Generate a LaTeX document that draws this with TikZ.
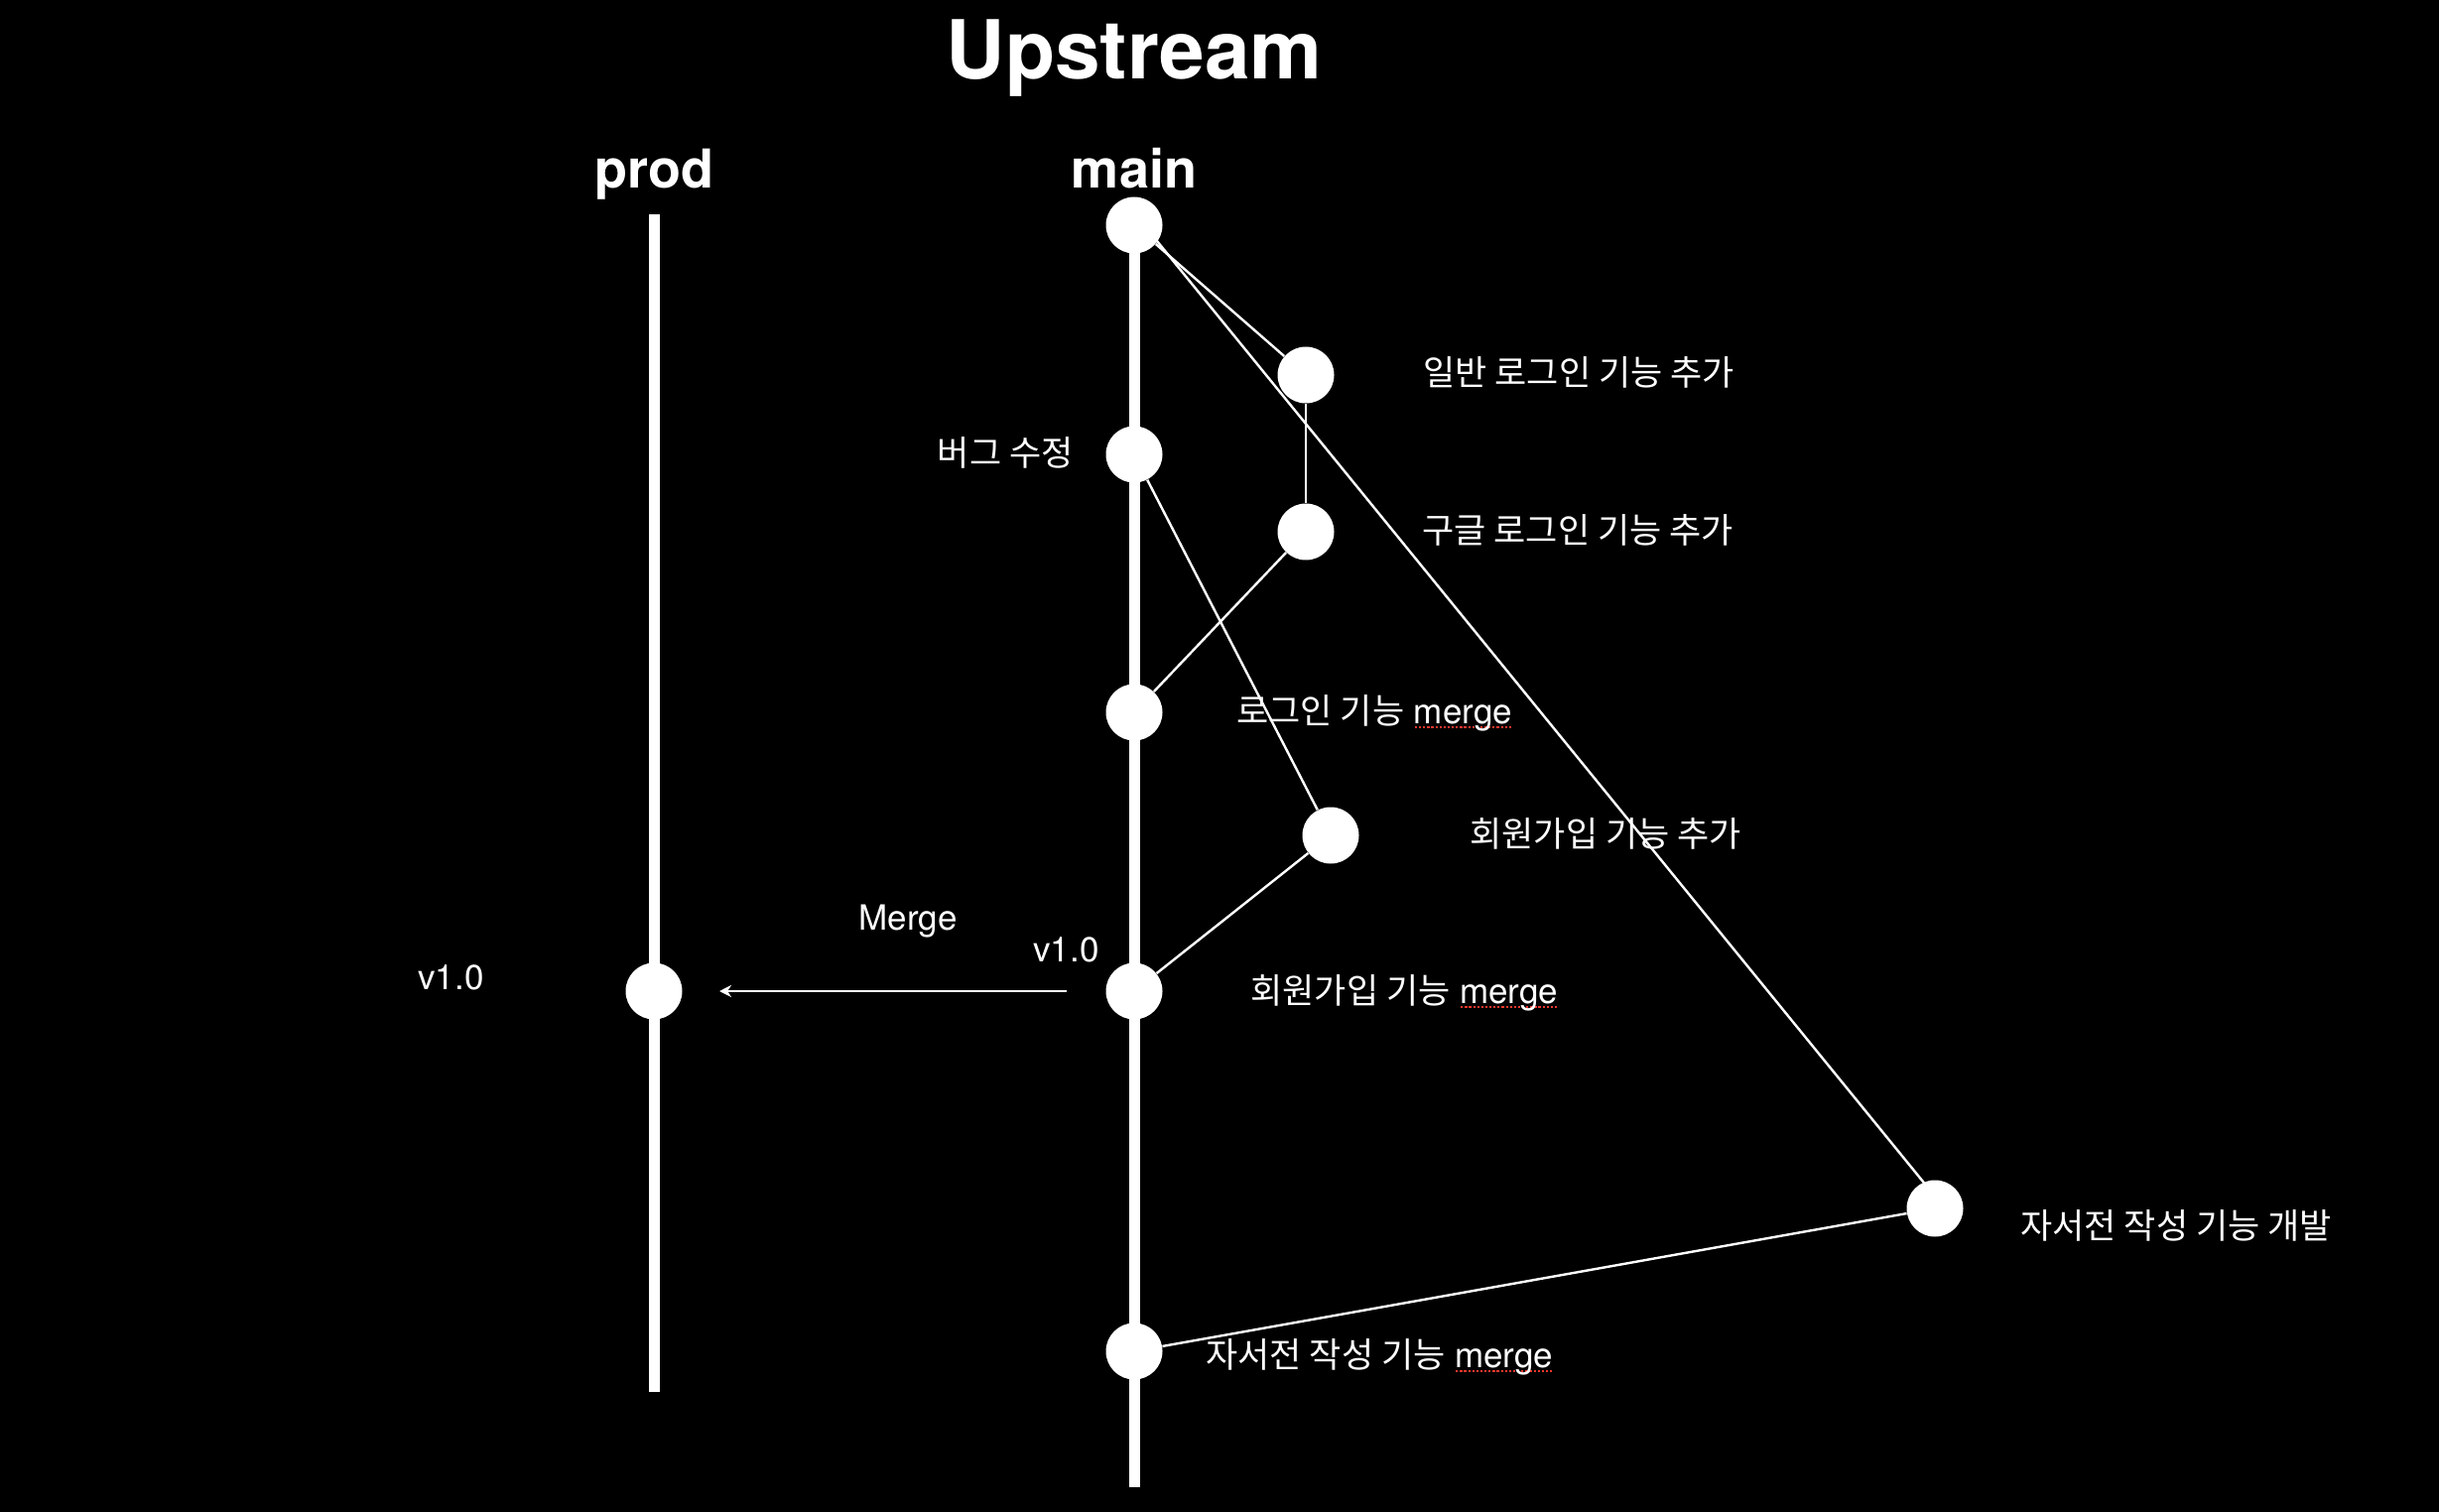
\documentclass[tikz,border=0pt]{standalone}
\usepackage{fontspec}
\setmainfont{TeX Gyre Heros}
\newfontfamily\kr{Noto Sans CJK KR}
\usetikzlibrary{arrows.meta}
\definecolor{spellred}{RGB}{235,55,45}
\newsavebox\spellbox
\newcommand\spellerr[1]{\sbox\spellbox{#1}\rlap{\raisebox{-2.6pt}{\color{spellred}\hbox to \wd\spellbox{\xleaders\hbox to 2pt{\hss\rule{1.1pt}{1.1pt}\hss}\hfill}}}\usebox\spellbox}
\begin{document}
\begin{tikzpicture}[x=0.5pt,y=-0.5pt,
  commit/.style={circle,fill=white,draw=none,minimum size=28.5pt,inner sep=0},
  branchline/.style={white,line width=5.5pt},
  conn/.style={white,line width=1.2pt},
  lbl/.style={text=white,inner sep=0,font=\fontsize{17.5}{21}\selectfont},
  headlbl/.style={text=white,inner sep=0,anchor=base,font=\bfseries\fontsize{27}{32}\selectfont},
]
\fill[black] (0,0) rectangle (2458,1524);

% branch lines
\coordinate (ptop) at (659,216);
\coordinate (pbot) at (659,1403);
\coordinate (mbot) at (1143,1499);

% commits
\node[commit] (m1) at (1143,227) {};
\node[commit] (m2) at (1143,458) {};
\node[commit] (m3) at (1143,718) {};
\node[commit] (m4) at (1143,999) {};
\node[commit] (m5) at (1143,1362) {};
\node[commit] (f1) at (1316,378) {};
\node[commit] (f2) at (1316,536) {};
\node[commit] (f3) at (1341,842) {};
\node[commit] (f4) at (1950,1218) {};
\node[commit] (p1) at (659,999) {};

\draw[branchline] (ptop) -- (pbot);
\draw[branchline] (m1.center) -- (mbot);

% connectors
\draw[conn] (m1) -- (f1);
\draw[conn] (f1) -- (f2);
\draw[conn] (f2) -- (m3);
\draw[conn] ([xshift=5pt]m1.center) -- ([xshift=5pt]f4.center);
\draw[conn] (m2) -- (f3);
\draw[conn] (f3) -- (m4);
\draw[conn] (f4) -- (m5);

\coordinate (as) at (1075,999);
\coordinate (ae) at (725,999);
\draw[conn,-{Stealth[length=6pt,width=6pt]}] (as) -- (ae);

% titles
\node[text=white,inner sep=0,anchor=base,font=\bfseries\fontsize{41}{49}\selectfont] (title) at (1143,80) {Upstream};
\node[headlbl] (lprod) at (659,190) {prod};
\node[headlbl] (lmain) at (1143,190) {main};

% labels
\node[lbl,anchor=base east] (t0) at (1082,470) {\kr 버그 수정};
\node[lbl,anchor=base west] (t1) at (1434,389) {\kr 일반 로그인 기능 추가};
\node[lbl,anchor=base west] (t2) at (1433,547) {\kr 구글 로그인 기능 추가};
\node[lbl,anchor=base west] (t3) at (1246,729) {{\kr 로그인 기능} \spellerr{merge}};
\node[lbl,anchor=base west] (t4) at (1481,853) {\kr 회원가입 기능 추가};
\node[lbl,anchor=base west] (t5) at (1260,1011) {{\kr 회원가입 기능} \spellerr{merge}};
\node[lbl,anchor=base west] (t6) at (2036,1248) {\kr 자서전 작성 기능 개발};
\node[lbl,anchor=base west] (t7) at (1215,1378) {{\kr 자서전 작성 기능} \spellerr{merge}};
\node[lbl,anchor=base] (tmerge) at (915,937) {Merge};
\node[lbl,anchor=base west] (tv1) at (1041,969) {v1.0};
\node[lbl,anchor=base west] (tv2) at (421,997) {v1.0};
\end{tikzpicture}
\end{document}
